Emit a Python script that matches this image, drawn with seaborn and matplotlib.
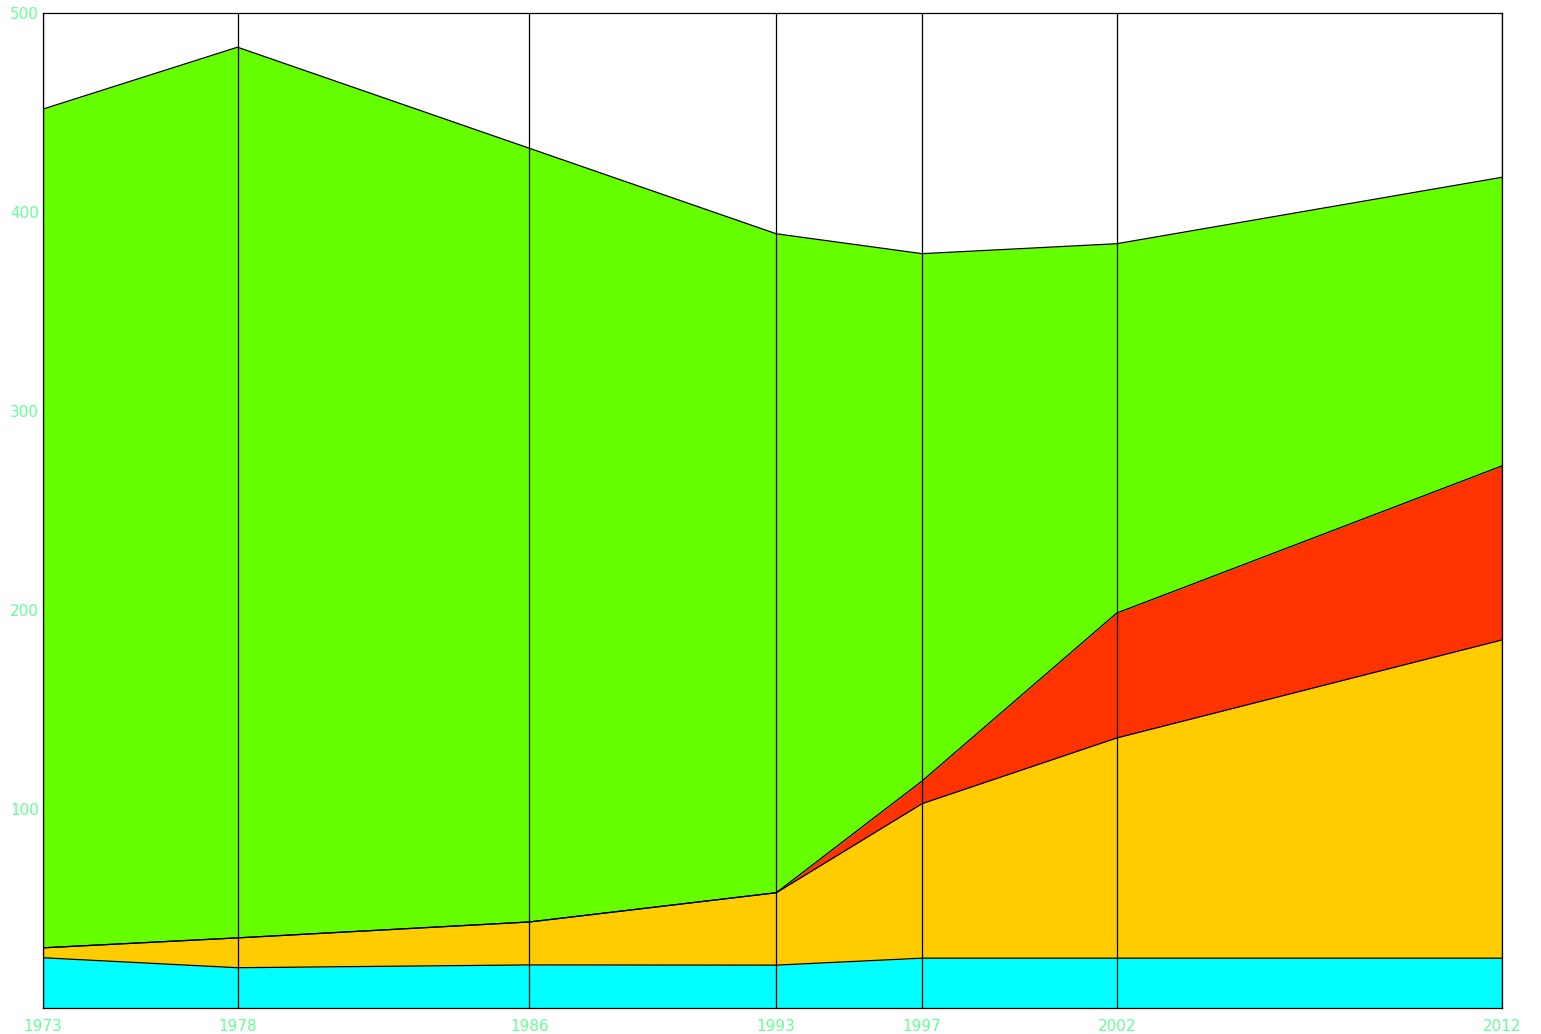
import numpy as np
import pandas as pd
import seaborn as sns
import matplotlib
matplotlib.use("Agg")
import matplotlib.pyplot as plt

# x positions (as placed on the axis) and their labels
years = [1973, 1978.2, 1986, 1992.6, 1996.5, 2001.7, 2012]
year_labels = ["1973", "1978", "1986", "1993", "1997", "2002", "2012"]

# layer thicknesses, bottom to top
cyan_vals = [25, 20, 21.4, 21.3, 24.8, 24.8, 24.8]
yellow_vals = [5, 15, 21.6, 36.4, 77.7, 110.7, 160]
red_vals = [0, 0, 0, 0, 11.4, 62.8, 87.5]
green_vals = [421.7, 447.8, 389, 331.3, 265.1, 185.7, 145.1]

colors = ["#00ffff", "#ffcc00", "#ff3300", "#66ff00"]
tick_color = "#66ff99"

sns.set_style("white")
fig = plt.figure(figsize=(15.41, 10.34), dpi=100)
ax = fig.add_axes([43 / 1541, 1 - 1007.5 / 1034, (1502 - 43) / 1541, (1007.5 - 13) / 1034])

layers = [cyan_vals, yellow_vals, red_vals, green_vals]
ax.stackplot(years, *layers, colors=colors, linewidth=0)

# outline each stacked boundary
cum = np.cumsum(np.array(layers), axis=0)
for i, top in enumerate(cum):
    df = pd.DataFrame({"year": years, "value": top})
    sns.lineplot(data=df, x="year", y="value", color="black", linewidth=0.9, ax=ax)

for x in years:
    ax.axvline(x, color="black", linewidth=0.9, zorder=3)

ax.set_xlim(1973, 2012)
ax.set_ylim(0, 500)
ax.set_xticks(years)
ax.set_xticklabels(year_labels)
ax.set_yticks([100, 200, 300, 400, 500])
ax.set_xlabel("")
ax.set_ylabel("")
ax.tick_params(axis="both", length=0, colors=tick_color, labelsize=11)
ax.tick_params(axis="x", pad=8)
ax.tick_params(axis="y", pad=3)
for s in ax.spines.values():
    s.set_color("black")
    s.set_linewidth(0.9)
    s.set_visible(True)

fig.savefig("out.png", dpi=100)
